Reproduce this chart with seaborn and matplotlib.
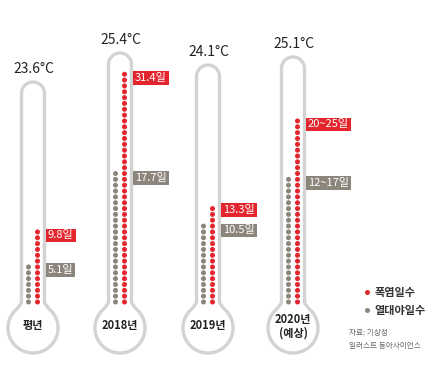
import numpy as np
import pandas as pd
import matplotlib
matplotlib.use("Agg")
import matplotlib.pyplot as plt
from matplotlib.path import Path
from matplotlib.patches import PathPatch
import seaborn as sns

# data
years = ["평년", "2018년", "2019년", "2020년\n(예상)"]
temps = ["23.6°C", "25.4°C", "24.1°C", "25.1°C"]
heat_days = [9.8, 31.4, 13.3, 25]        # 폭염일수 (2020: 20~25)
night_days = [5.1, 17.7, 10.5, 17]       # 열대야일수 (2020: 12~17)
heat_labels = ["9.8일", "31.4일", "13.3일", "20~25일"]
night_labels = ["5.1일", "17.7일", "10.5일", "12~17일"]
tube_tops = [82, 53, 65, 57]             # top of each glass tube (px)
centers = [33, 120, 208, 293]

RED = "#e3262d"
GRAY = "#8c857b"
GLASS = "#d3d3d3"
BASE = 302      # y of the lowest dot (px)
PX_DAY = 7.3    # px per day
STEP = 0.8      # one dot every 0.8 day

sns.set_theme(style="white")
plt.rcParams['font.family'] = ['Noto Sans CJK KR', 'DejaVu Sans']

fig = plt.figure(figsize=(4.3, 3.66), dpi=100)
ax = fig.add_axes([0, 0, 1, 1])
ax.set_xlim(0, 430)
ax.set_ylim(366, 0)
ax.axis("off")


def day_y(d):
    return BASE - d * PX_DAY


def glass(cx, top, hw=11.5, yc=328, r=25):
    # outline of a thermometer: round top, tube, flared neck, bulb
    pts = []
    a = np.linspace(np.pi, 0, 30)
    pts += list(zip(cx + hw * np.cos(a), top + hw - hw * np.sin(a)))
    pts.append((cx + hw, 303))
    ang = np.radians(40)
    b = np.linspace(ang, 2 * np.pi - ang, 80)
    pts += list(zip(cx + r * np.sin(b), yc - r * np.cos(b)))
    pts.append((cx - hw, 303))
    pts.append(pts[0])
    patch = PathPatch(Path(pts), facecolor="white", edgecolor=GLASS, lw=2.4,
                      joinstyle="round", zorder=1)
    ax.add_patch(patch)


rows = []
for i, cx in enumerate(centers):
    glass(cx, tube_tops[i])
    for d in np.arange(0, heat_days[i] + 0.01, STEP):
        rows.append({"x": cx + 4.5, "y": day_y(d), "kind": "폭염일수"})
    for d in np.arange(0, night_days[i] + 0.01, STEP):
        rows.append({"x": cx - 4.5, "y": day_y(d), "kind": "열대야일수"})

    ax.text(cx + 1, tube_tops[i] - 13, temps[i], ha="center", va="center",
            fontsize=10, color="#222222")
    ax.text(cx, 326, years[i], ha="center", va="center", fontsize=8,
            color="#222222", weight="bold", linespacing=1.05)

    for val, lab, col in [(heat_days[i], heat_labels[i], RED),
                          (night_days[i], night_labels[i], GRAY)]:
        ax.text(cx + 15, day_y(val) + 5, lab, ha="left", va="center",
                fontsize=8, color="white",
                bbox=dict(boxstyle="square,pad=0.16", fc=col, ec="none"))

dots = pd.DataFrame(rows)
sns.scatterplot(data=dots, x="x", y="y", hue="kind",
                palette={"폭염일수": RED, "열대야일수": GRAY},
                s=13, linewidth=0, ax=ax, zorder=3)

leg = ax.legend(loc="upper left", bbox_to_anchor=(346 / 430, 1 - 276 / 366),
                frameon=False, handletextpad=-0.3, labelspacing=0.45,
                prop={"size": 8, "weight": "bold"}, markerscale=1.0)
for t in leg.get_texts():
    t.set_color("#333333")

ax.text(349, 333, "자료: 기상청", fontsize=5.5, color="#666666", va="center")
ax.text(349, 346, "일러스트 동아사이언스", fontsize=5.5, color="#666666", va="center")

plt.savefig("out.png", dpi=100)
